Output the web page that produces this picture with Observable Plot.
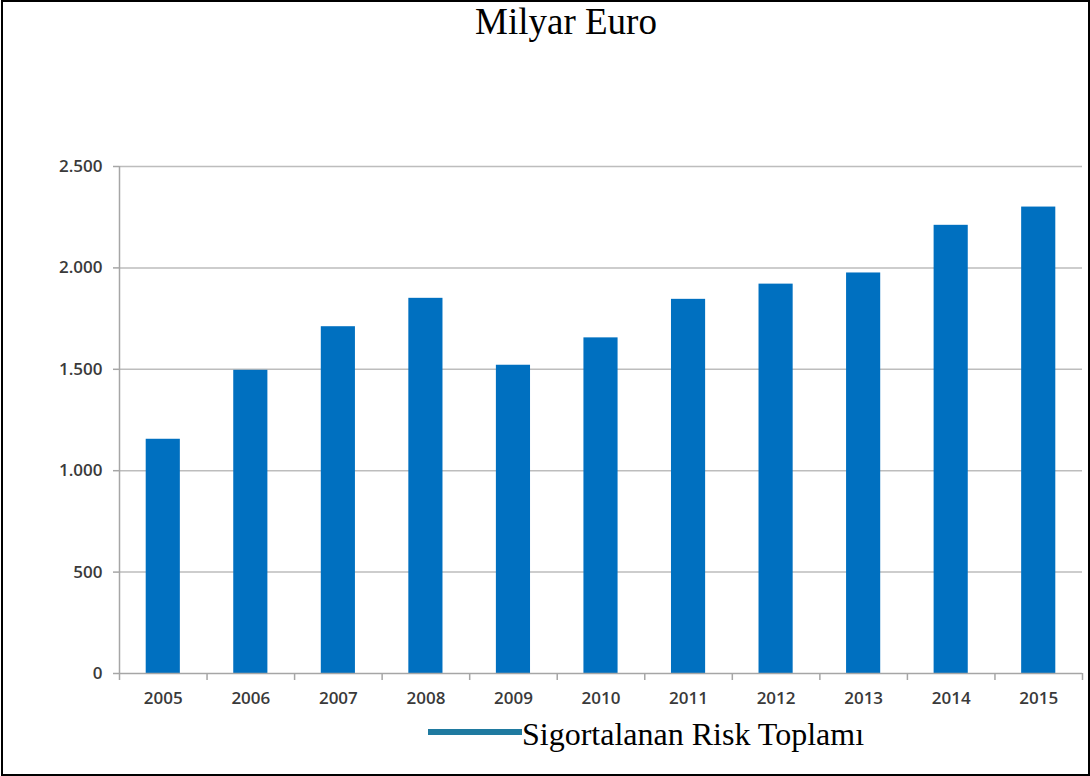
<!DOCTYPE html>
<html>
<head>
<meta charset="utf-8">
<script src="https://cdn.jsdelivr.net/npm/d3@7"></script>
<script src="https://cdn.jsdelivr.net/npm/@observablehq/plot@0.6"></script>
<style>
  html, body { margin: 0; padding: 0; background: #fff; }
  #wrap { position: relative; width: 1090px; height: 776px; overflow: hidden; }
  #frame { position: absolute; left: 1px; top: 0px; width: 1085px; height: 772px; border: 2px solid #000; pointer-events: none; }
  #title { position: absolute; left: 446px; width: 240px; top: 1px; text-align: center; font-family: "Liberation Serif", "Times New Roman", serif; font-size: 37px; line-height: 42px; color: #000; white-space: nowrap; }
  #legend { position: absolute; left: 428px; top: 715px; display: flex; align-items: center; font-family: "Liberation Serif", "Times New Roman", serif; font-size: 32px; line-height: 38px; color: #000; white-space: nowrap; }
  #legend .sw { width: 94px; height: 6px; background: #1f7aa0; margin-top: -4px; }
  #chart { position: absolute; left: 0; top: 0; }
</style>
</head>
<body>
<div id="wrap">
  <div id="chart"></div>
  <div id="title">Milyar Euro</div>
  <div id="legend"><div class="sw"></div><span>Sigortalanan Risk Toplamı</span></div>
  <div id="frame"></div>
</div>
<script>
const years = ["2005","2006","2007","2008","2009","2010","2011","2012","2013","2014","2015"];
const values = [1155, 1495, 1710, 1850, 1520, 1655, 1845, 1920, 1975, 2210, 2300];
const yTicks = [0, 500, 1000, 1500, 2000, 2500];
const seriesName = "Sigortalanan Risk Toplamı";

const data = years.map((y, i) => ({year: y, value: values[i]}));
const trFormat = d3.formatLocale({decimal: ",", thousands: ".", grouping: [3], currency: ["", " €"]}).format(",");

const W = 1090, H = 776;
const mL = 119, mR = 8, mT = 166, mB = 103;
const step = (W - mL - mR) / years.length;

const labelFont = "'Open Sans', 'Noto Sans', sans-serif";
const axisColor = "#a6a6a6";

const chart = Plot.plot({
  width: W,
  height: H,
  marginLeft: mL,
  marginRight: mR,
  marginTop: mT,
  marginBottom: mB,
  style: {background: "transparent", fontFamily: labelFont, fontSize: "17px", color: "#3a3a3a"},
  x: {domain: years, paddingInner: 0.61, paddingOuter: 0.305, round: false, label: null},
  y: {domain: [0, 2500], label: null},
  marks: [
    Plot.ruleY(yTicks.filter(d => d > 0), {stroke: "#bdbdbd", strokeWidth: 1.5}),
    Plot.barY(data, {x: "year", y: "value", fill: "#0070C0"}),
    // y axis line
    Plot.ruleX([years[0]], {x: d => d, dx: -step / 2, y1: 0, y2: 2500, stroke: axisColor, strokeWidth: 1.5}),
    // x axis baseline
    Plot.ruleY([0], {stroke: axisColor, strokeWidth: 1.5}),
    // x category boundary ticks
    Plot.ruleX(years, {x: d => d, dx: -step / 2, y1: 0, y2: 0, insetBottom: -7, stroke: axisColor, strokeWidth: 1.5}),
    Plot.ruleX([years[years.length - 1]], {x: d => d, dx: step / 2, y1: 0, y2: 0, insetBottom: -7, stroke: axisColor, strokeWidth: 1.5}),
    Plot.axisY(yTicks, {tickSize: 6, tickPadding: 11, tickFormat: trFormat, stroke: axisColor, strokeWidth: 1.5, fill: "#3a3a3a", fontWeight: 600, fontSize: 17, label: null}),
    Plot.axisX({tickSize: 0, tickPadding: 18, fill: "#3a3a3a", fontWeight: 600, fontSize: 17, label: null})
  ]
});
document.getElementById("chart").appendChild(chart);
</script>
</body>
</html>
